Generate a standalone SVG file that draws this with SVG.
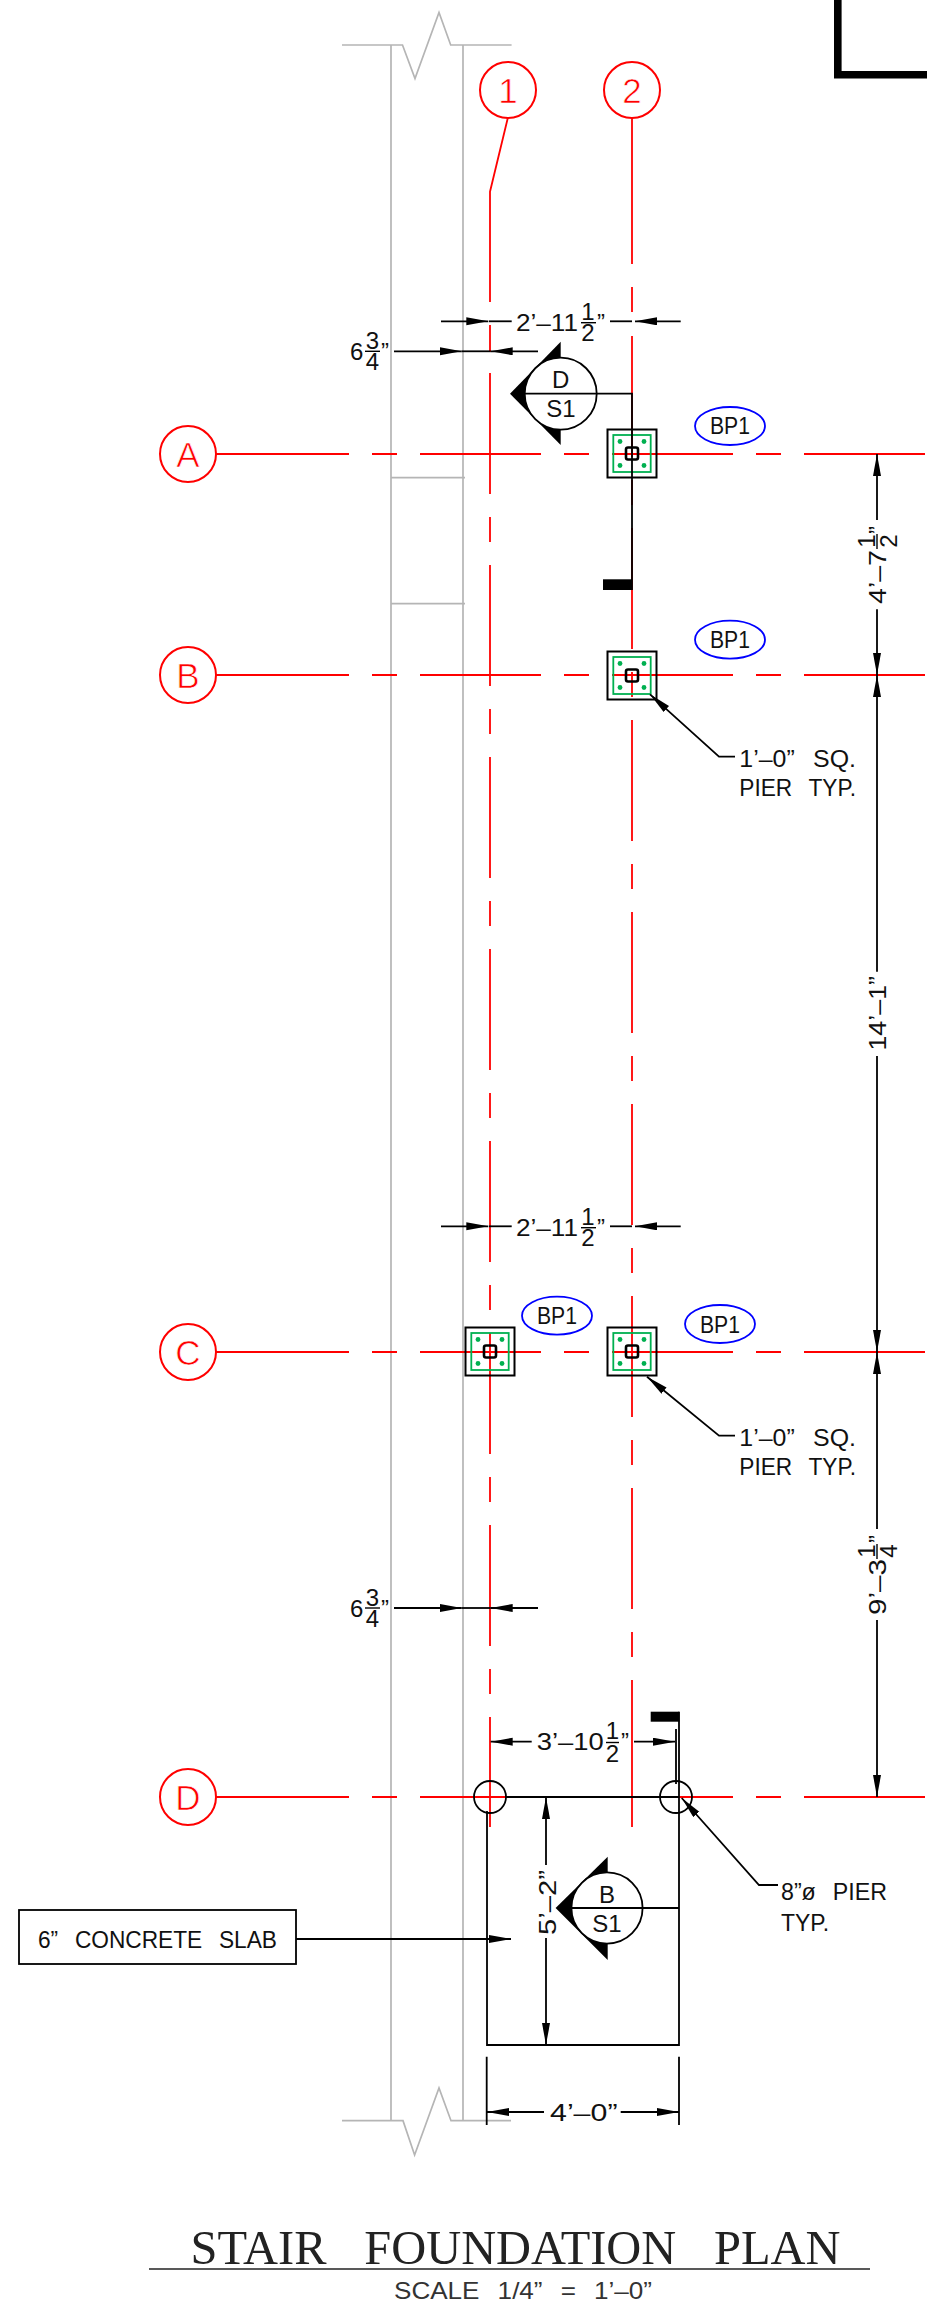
<svg xmlns="http://www.w3.org/2000/svg" width="927" height="2305" viewBox="0 0 927 2305">
<style>
text{font-family:"Liberation Sans",Arial,sans-serif;fill:#111;font-size:24px}
.m{text-anchor:middle}
.w{word-spacing:11px}
.gr{fill:none;stroke:#b5b5b5;stroke-width:1.7}
.rd{fill:none;stroke:#f00;stroke-width:1.8}
.rdd{fill:none;stroke:#f00;stroke-width:1.8;stroke-dasharray:121 23 25 23}
.rc{fill:#fff;stroke:#f00;stroke-width:2}
.rt{fill:#f00;font-size:35px;text-anchor:middle;stroke:#fff;stroke-width:.7}
.k{fill:none;stroke:#000;stroke-width:1.8}
.bar{fill:none;stroke:#000;stroke-width:1.4}
.a{fill:none;stroke:#000;stroke-width:1.8;marker-end:url(#ah)}
.po{fill:none;stroke:#000;stroke-width:2}
.pg{fill:none;stroke:#00b050;stroke-width:1.8}
.pd{fill:#00b050}
.pc{fill:none;stroke:#000;stroke-width:2.6}
.bl{fill:none;stroke:#00f;stroke-width:1.8}
.secw{fill:#000}
.secc{fill:#fff;stroke:#000;stroke-width:1.8}
</style>
<defs>
<marker id="ah" markerUnits="userSpaceOnUse" markerWidth="24" markerHeight="10" refX="22" refY="4" orient="auto"><path d="M0 0L22 4L0 8Z" fill="#000"/></marker>
<g id="pier">
<rect class="po" x="-24.5" y="-24" width="49" height="48"/>
<rect class="pg" x="-18.7" y="-18.5" width="37.4" height="37"/>
<circle class="pd" cx="-12" cy="-12" r="2.4"/><circle class="pd" cx="12" cy="-12" r="2.4"/>
<circle class="pd" cx="-12" cy="12" r="2.4"/><circle class="pd" cx="12" cy="12" r="2.4"/>
<rect class="pc" x="-6" y="-6" width="12" height="12" rx="2"/>
</g>
</defs>
<rect width="927" height="2305" fill="#fff"/>

<g id="sheet-corner"><path d="M837.8 0V74.7H927" fill="none" stroke="#000" stroke-width="7.6"/></g>

<g id="wall">
<path class="gr" d="M342 45H402.5L415 78.5L439 12.5L450.7 45H511.6"/>
<path class="gr" d="M342 2120.7H403L414.6 2155L439 2088L451 2120.7H511"/>
<path class="gr" d="M391 45V2120.7M463 45V2120.7M391 477.7H465M391 603.7H465"/>
</g>

<g id="grid-lines">
<path class="rd" d="M507.8 118L490 191.7V302M490 325V352"/>
<path class="rdd" d="M490 373V1827"/>
<path class="rd" d="M632 118V264M632 287V312M632 1801V1827"/>
<path class="rdd" d="M632 336V1801"/>
<path class="rdd" d="M216 454H228M228 454H927"/>
<path class="rdd" d="M216 675H228M228 675H927"/>
<path class="rdd" d="M216 1352H228M228 1352H927"/>
<path class="rdd" d="M216 1797H228M228 1797H927"/>
</g>

<g id="bubble-1"><circle class="rc" cx="508" cy="90" r="28"/><text class="rt" x="508" y="102.7">1</text></g>
<g id="bubble-2"><circle class="rc" cx="632" cy="90" r="28"/><text class="rt" x="632" y="102.7">2</text></g>
<g id="bubble-A"><circle class="rc" cx="188" cy="454" r="28"/><text class="rt" x="188" y="466.5">A</text></g>
<g id="bubble-B"><circle class="rc" cx="188" cy="675" r="28"/><text class="rt" x="188" y="687.5">B</text></g>
<g id="bubble-C"><circle class="rc" cx="188" cy="1352" r="28"/><text class="rt" x="188" y="1364.5">C</text></g>
<g id="bubble-D"><circle class="rc" cx="188" cy="1797" r="28"/><text class="rt" x="188" y="1809.5">D</text></g>

<g id="pier-A2"><use href="#pier" x="632" y="453.5"/></g>
<g id="pier-B2"><use href="#pier" x="632" y="675.5"/></g>
<g id="pier-C1"><use href="#pier" x="490" y="1351.5"/></g>
<g id="pier-C2"><use href="#pier" x="632" y="1351.5"/></g>

<g id="tag-A"><ellipse class="bl" cx="730" cy="426" rx="35" ry="19"/><text class="m" x="730" y="434" textLength="40" lengthAdjust="spacingAndGlyphs">BP1</text></g>
<g id="tag-B"><ellipse class="bl" cx="730" cy="639.7" rx="35" ry="19"/><text class="m" x="730" y="648" textLength="40" lengthAdjust="spacingAndGlyphs">BP1</text></g>
<g id="tag-C1"><ellipse class="bl" cx="557" cy="1315.7" rx="35" ry="19"/><text class="m" x="557" y="1324" textLength="40" lengthAdjust="spacingAndGlyphs">BP1</text></g>
<g id="tag-C2"><ellipse class="bl" cx="720" cy="1324" rx="35" ry="19"/><text class="m" x="720" y="1332.5" textLength="40" lengthAdjust="spacingAndGlyphs">BP1</text></g>

<g id="section-D">
<path class="secw" d="M510 393.7L560.7 341.7V445Z"/>
<circle class="secc" cx="560.7" cy="393.7" r="36"/>
<path class="k" d="M512 393.7H632V590"/>
<rect x="603" y="579.3" width="29" height="10.7" fill="#000"/>
<text class="m" x="560.7" y="388.3">D</text>
<text class="m" x="561" y="417.3">S1</text>
</g>

<g id="slab">
<path class="k" d="M487 1811V2045H679V1711.7M506 1797H660"/>
<path class="k" d="M660 1797H679M676 1729V1784"/>
<rect x="650.7" y="1711.7" width="28.6" height="10" fill="#000"/>
<circle cx="490" cy="1797" r="16" fill="none" stroke="#000" stroke-width="1.8"/>
<circle cx="676" cy="1797" r="16" fill="none" stroke="#000" stroke-width="1.8"/>
</g>

<g id="section-B">
<path class="secw" d="M555.6 1908L607.7 1856.7V1960Z"/>
<circle class="secc" cx="607" cy="1908" r="35.6"/>
<path class="k" d="M557 1908H679"/>
<text class="m" x="607" y="1902.5">B</text>
<text class="m" x="607" y="1931.5">S1</text>
</g>

<g id="slab-label">
<rect x="19" y="1910" width="277" height="54" fill="none" stroke="#000" stroke-width="1.8"/>
<text class="w" x="38" y="1948" textLength="239" lengthAdjust="spacingAndGlyphs">6” CONCRETE SLAB</text>
</g>

<g id="connectors">
<path class="a" d="M296 1939H511"/>
<path class="a" d="M735 756.7H719L650 694.3"/>
<path class="a" d="M735 1435.7H719L647 1376.7"/>
<path class="a" d="M778 1885H759L681.7 1798"/>

<path class="a" d="M441 321.3H488.3"/><path class="k" d="M489 321.3H511.7"/>
<path class="k" d="M610 321.3H632"/><path class="a" d="M680.7 321.3H635"/>
<path class="a" d="M394 351.3H461.7"/><path class="k" d="M461.7 351.3H490.7"/><path class="a" d="M538 351.3H490.7"/>

<path class="a" d="M441 1226.3H488.3"/><path class="k" d="M489 1226.3H511.7"/>
<path class="k" d="M610 1226.3H632"/><path class="a" d="M680.7 1226.3H635"/>
<path class="a" d="M394 1608H461.7"/><path class="k" d="M461.7 1608H490.7"/><path class="a" d="M538 1608H490.7"/>

<path class="a" d="M531.7 1741.7H490.7"/><path class="a" d="M634 1741.7H675"/>
<path class="a" d="M546 1865V1797"/><path class="a" d="M546 1938V2045"/>
<path class="k" d="M486.7 2056.7V2125M679 2056.7V2125"/>
<path class="a" d="M544 2112H487"/><path class="a" d="M620.7 2112H679"/>

<path class="a" d="M877 520V454"/><path class="a" d="M877 609.3V675"/>
<path class="a" d="M877 971.7V675"/><path class="a" d="M877 1056V1352"/>
<path class="a" d="M877 1529V1352"/><path class="a" d="M877 1620V1797"/>
</g>

<g id="dim-top-1">
<text x="516" y="330.7" textLength="62" lengthAdjust="spacingAndGlyphs">2’–11</text>
<text class="m" x="588" y="320">1</text><path class="bar" d="M581 322.7H596"/><text class="m" x="588" y="340.7">2</text>
<text x="597" y="330.7">”</text>
</g>
<g id="dim-top-2">
<text x="350" y="360">6</text>
<text class="m" x="372.5" y="349.3">3</text><path class="bar" d="M365 351.3H380"/><text class="m" x="372.5" y="370">4</text>
<text x="381" y="360">”</text>
</g>
<g id="dim-mid-1">
<text x="516" y="1235.7" textLength="62" lengthAdjust="spacingAndGlyphs">2’–11</text>
<text class="m" x="588" y="1225">1</text><path class="bar" d="M581 1227.7H596"/><text class="m" x="588" y="1245.7">2</text>
<text x="597" y="1235.7">”</text>
</g>
<g id="dim-mid-2">
<text x="350" y="1616.7">6</text>
<text class="m" x="372.5" y="1606">3</text><path class="bar" d="M365 1608H380"/><text class="m" x="372.5" y="1626.7">4</text>
<text x="381" y="1616.7">”</text>
</g>
<g id="dim-slab-w">
<text x="536.7" y="1750" textLength="67" lengthAdjust="spacingAndGlyphs">3’–10</text>
<text class="m" x="612.5" y="1739">1</text><path class="bar" d="M606 1742.5H619"/><text class="m" x="612.5" y="1761.5">2</text>
<text x="621" y="1750">”</text>
</g>
<g id="dim-slab-4"><text x="550" y="2120.7" textLength="67.5" lengthAdjust="spacingAndGlyphs">4’–0”</text></g>
<g id="dim-slab-5"><text transform="translate(555.5 1935) rotate(-90)" textLength="65" lengthAdjust="spacingAndGlyphs">5’–2”</text></g>

<g id="dim-v-A">
<text transform="translate(885.7 604) rotate(-90)" textLength="54" lengthAdjust="spacingAndGlyphs">4’–7</text>
<text class="m" transform="translate(875 541) rotate(-90)">1</text><path class="bar" d="M877 534V549"/><text class="m" transform="translate(896.7 541) rotate(-90)">2</text>
<text transform="translate(885.7 534) rotate(-90)">”</text>
</g>
<g id="dim-v-B"><text transform="translate(886 1050.6) rotate(-90)" textLength="74.6" lengthAdjust="spacingAndGlyphs">14’–1”</text></g>
<g id="dim-v-C">
<text transform="translate(885.7 1615) rotate(-90)" textLength="56" lengthAdjust="spacingAndGlyphs">9’–3</text>
<text class="m" transform="translate(875 1551) rotate(-90)">1</text><path class="bar" d="M877 1544V1559"/><text class="m" transform="translate(896.7 1551) rotate(-90)">4</text>
<text transform="translate(885.7 1543) rotate(-90)">”</text>
</g>

<g id="notes">
<text class="w" x="739.3" y="766.7" textLength="116.7" lengthAdjust="spacingAndGlyphs">1’–0” SQ.</text>
<text class="w" x="739.3" y="795.7" textLength="116.7" lengthAdjust="spacingAndGlyphs">PIER TYP.</text>
<text class="w" x="739.3" y="1445.7" textLength="116.7" lengthAdjust="spacingAndGlyphs">1’–0” SQ.</text>
<text class="w" x="739.3" y="1474.7" textLength="116.7" lengthAdjust="spacingAndGlyphs">PIER TYP.</text>
<text class="w" x="781" y="1900" textLength="106" lengthAdjust="spacingAndGlyphs">8”ø PIER</text>
<text x="781" y="1931" textLength="48" lengthAdjust="spacingAndGlyphs">TYP.</text>
</g>

<g id="title">
<text x="190.5" y="2264" style="font-family:'Liberation Serif',serif;font-size:49px;word-spacing:26px;fill:#222" textLength="650" lengthAdjust="spacingAndGlyphs">STAIR FOUNDATION PLAN</text>
<path d="M149 2269H870" stroke="#222" stroke-width="1.5" fill="none"/>
<text x="394" y="2299" textLength="258" lengthAdjust="spacingAndGlyphs" style="fill:#333;word-spacing:10px">SCALE 1/4” = 1’–0”</text>
</g>
</svg>
